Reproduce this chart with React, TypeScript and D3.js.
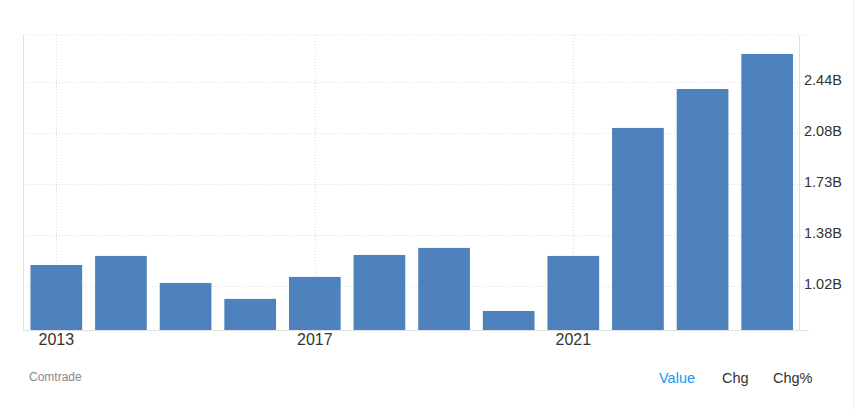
import React from "react";
import * as d3 from "d3";

const years = ["2013","2014","2015","2016","2017","2018","2019","2020","2021","2022","2023","2024"];
const values = [1.166, 1.229, 1.041, 0.93, 1.083, 1.236, 1.285, 0.846, 1.229, 2.12, 2.391, 2.635];
const yTickValues = [1.02, 1.375, 1.73, 2.085, 2.44];
const yTickLabels = ["1.02B", "1.38B", "1.73B", "2.08B", "2.44B"];
const xLabelYears = ["2013", "2017", "2021"];
const sourceLabel = "Comtrade";
const toggleLabels = ["Value", "Chg", "Chg%"];

const W = 855, H = 410;
const L = 23, R = 799, T = 35, B = 330.5;
const FONT = "Arial, 'Liberation Sans', Helvetica, sans-serif";

export default function App() {
  const x = d3.scaleBand<string>().domain(years).range([L + 1, R + 0.5]).paddingInner(0.2).paddingOuter(0.1);
  const y = d3.scaleLinear().domain([0.71, 2.767]).range([B, T]);
  const cx = (yr: string) => (x(yr) as number) + x.bandwidth() / 2;
  const togglesX = [659, 722, 773];
  return (
    <svg width={W} height={H} style={{ position: "absolute", left: 0, top: 0, display: "block", background: "#fff" }}>
      <line x1={L} x2={809} y1={T} y2={T} stroke="#ddd" strokeDasharray="1,2" />
      {yTickValues.map((v, i) => (
        <line key={"h" + i} x1={L} x2={809} y1={Math.round(y(v)) + 0.5} y2={Math.round(y(v)) + 0.5} stroke="#ddd" strokeDasharray="1,2" />
      ))}
      {xLabelYears.map((yr) => (
        <line key={"v" + yr} x1={Math.round(cx(yr)) + 0.5} x2={Math.round(cx(yr)) + 0.5} y1={T} y2={B} stroke="#ddd" strokeDasharray="1,2" />
      ))}
      {values.map((v, i) => (
        <rect key={years[i]} x={x(years[i])} y={y(v)} width={x.bandwidth()} height={B - y(v)} fill="#4f81bd" />
      ))}
      <line x1={L + 0.5} x2={L + 0.5} y1={T} y2={B} stroke="#e0e0e0" />
      <line x1={R + 0.5} x2={R + 0.5} y1={T} y2={B} stroke="#e0e0e0" />
      <line x1={L} x2={809} y1={B} y2={B} stroke="#e0e0e0" />
      <line x1={853.5} x2={853.5} y1={0} y2={H} stroke="#f0f0f0" />
      {yTickValues.map((v, i) => (
        <text key={"yl" + i} x={804} y={y(v) + 3.5} fontFamily={FONT} fontSize={14.5} fill="#333">{yTickLabels[i]}</text>
      ))}
      {xLabelYears.map((yr) => (
        <text key={"xl" + yr} x={cx(yr)} y={345} textAnchor="middle" fontFamily={FONT} fontSize={16} fill="#333">{yr}</text>
      ))}
      <text x={29} y={381} fontFamily={FONT} fontSize={12} fill="#888">{sourceLabel}</text>
      {toggleLabels.map((t, i) => (
        <text key={t} x={togglesX[i]} y={382.5} fontFamily={FONT} fontSize={14.5} fill={i === 0 ? "#2196f3" : "#333"}>{t}</text>
      ))}
    </svg>
  );
}
